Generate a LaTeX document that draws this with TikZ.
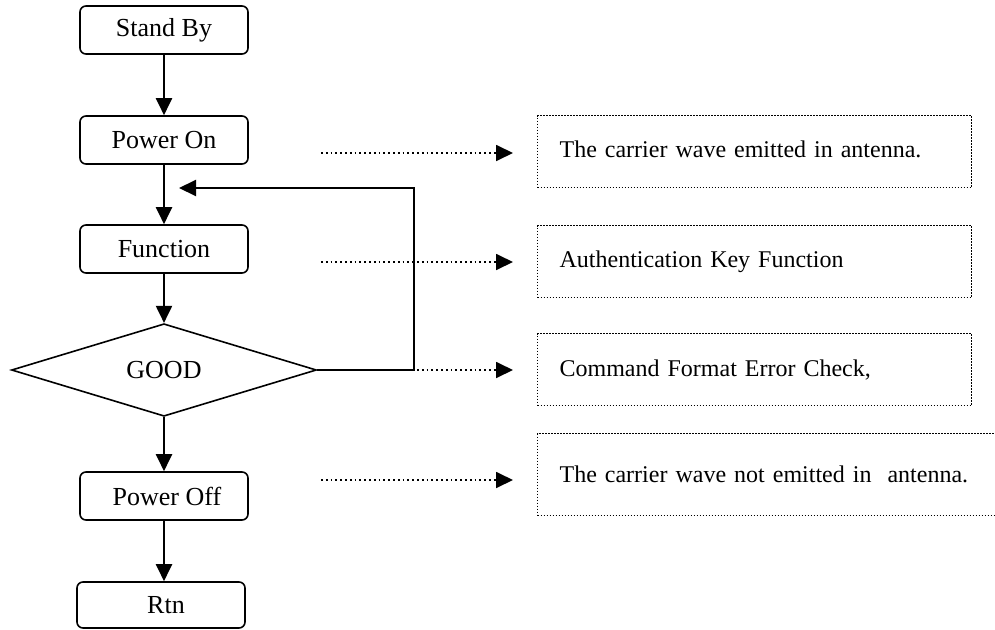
\documentclass[tikz,border=0pt]{standalone}
\usepackage{fontspec}
\setmainfont{Liberation Serif}
\usetikzlibrary{arrows.meta,shapes.geometric}
\begin{document}
\begin{tikzpicture}[x=1pt,y=-1pt,
  flowbox/.style={draw,line width=1.6pt,rounded corners=6pt,minimum width=168pt,minimum height=48pt,inner sep=0pt,font=\fontsize{26}{30}\selectfont},
  decision/.style={draw,line width=1.6pt,diamond,minimum width=305pt,minimum height=70pt,inner sep=0pt,font=\fontsize{26}{30}\selectfont},
  flow/.style={line width=2pt,-{Triangle[length=17pt,width=16pt]}},
  notebox/.style={draw,line width=1.2pt,dash pattern=on 1.2pt off 1.8pt,minimum height=72pt,text width=390pt,align=left,inner xsep=22pt,inner ysep=0pt,font=\fontsize{24}{28}\selectfont},
  dotarrow/.style={line width=1.8pt,dash pattern=on 1.8pt off 3pt,-{Triangle[length=17pt,width=16pt]}}
]
\useasboundingbox (0,0) rectangle (995,629);
\clip (0,0) rectangle (995,629);

\node[flowbox] (sb) at (164,30) {Stand By};
\node[flowbox] (pon) at (164,140) {Power On};
\node[flowbox] (fn) at (164,249) {Function};
\node[decision] (good) at (164,370) {GOOD};
\node[flowbox] (poff) at (164,496) {\hspace*{6pt}Power Off};
\node[flowbox,minimum height=46pt] (rtn) at (161,605) {\hspace*{10pt}Rtn};

\draw[flow] (sb) -- (pon);
\draw[flow] (pon) -- (fn);
\draw[flow] (fn) -- (good);
\draw[flow] (good) -- (poff);
\draw[flow] (poff.south) -- (poff.south |- rtn.north);

\coordinate (fbcorner) at (414,188);
\coordinate (fbend) at (179,188);
\draw[flow] (good.east) -| (fbcorner) -- (fbend);

\node[notebox,anchor=north west] (n1) at (537,115) {The carrier wave emitted in antenna.\vphantom{g}\\[4pt]};
\node[notebox,anchor=north west] (n2) at (537,225) {Authentication Key Function\\[4pt]};
\node[notebox,anchor=north west] (n3) at (537,333) {Command Format Error Check,\\[4pt]};
\node[notebox,anchor=north west,minimum height=82pt,text width=440pt] (n4) at (537,433) {The carrier wave not emitted in\ \ antenna.};

\coordinate (d1) at (321,153);
\coordinate (d2) at (321,262);
\coordinate (d3) at (321,370);
\coordinate (d4) at (321,480);
\draw[dotarrow,shorten >=24pt] (d1) -- (d1 -| n1.west);
\draw[dotarrow,shorten >=24pt] (d2) -- (d2 -| n2.west);
\draw[dotarrow,shorten >=24pt] (d3) -- (d3 -| n3.west);
\draw[dotarrow,shorten >=24pt] (d4) -- (d4 -| n4.west);
\end{tikzpicture}
\end{document}
